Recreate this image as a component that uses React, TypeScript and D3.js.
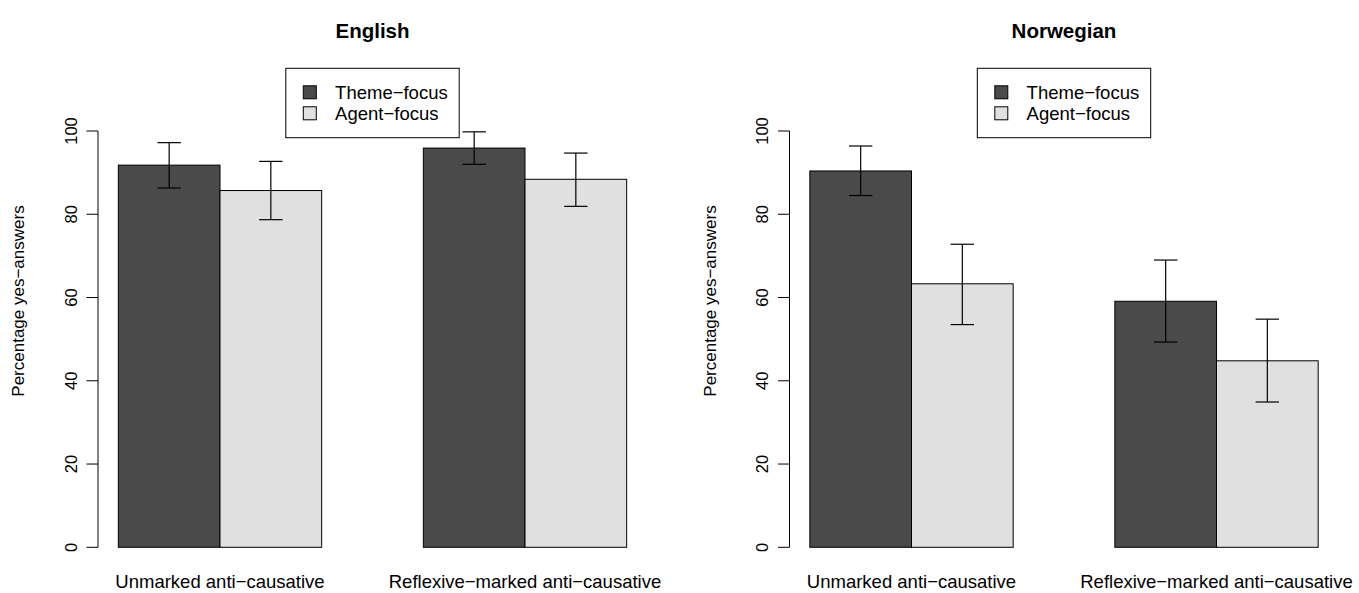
import React from 'react';
import * as d3 from 'd3';

// data
const categories = ['Unmarked anti\u2212causative', 'Reflexive\u2212marked anti\u2212causative'];
const seriesNames = ['Theme\u2212focus', 'Agent\u2212focus'];
const seriesColors = ['#4a4a4a', '#e0e0e0'];
const yTicks = [0, 20, 40, 60, 80, 100];

const englishTheme = [91.8, 95.9];
const englishThemeLow = [86.3, 92.0];
const englishThemeHigh = [97.2, 99.8];
const englishAgent = [85.7, 88.4];
const englishAgentLow = [78.7, 81.9];
const englishAgentHigh = [92.7, 94.7];

const norwegianTheme = [90.4, 59.1];
const norwegianThemeLow = [84.5, 49.3];
const norwegianThemeHigh = [96.4, 69.0];
const norwegianAgent = [63.3, 44.8];
const norwegianAgentLow = [53.5, 34.9];
const norwegianAgentHigh = [72.8, 54.8];

const panels = [
  {
    title: 'English',
    left: 98,
    values: [englishTheme, englishAgent],
    low: [englishThemeLow, englishAgentLow],
    high: [englishThemeHigh, englishAgentHigh],
  },
  {
    title: 'Norwegian',
    left: 789.5,
    values: [norwegianTheme, norwegianAgent],
    low: [norwegianThemeLow, norwegianAgentLow],
    high: [norwegianThemeHigh, norwegianAgentHigh],
  },
];

const W = 1359;
const H = 593;
const FONT = '"Liberation Sans", Arial, Helvetica, sans-serif';

function Panel({ p }) {
  // R barplot(beside=TRUE) layout: bars of width 1, one bar gap between groups
  const x = d3.scaleLinear().domain([0.8, 6.2]).range([p.left, p.left + 549]);
  const y = d3.scaleLinear().domain([0, 100]).range([547.3, 131]);
  const cx = (x(0.8) + x(6.2)) / 2;
  const capHalf = 11.7;
  const bars = [];
  categories.forEach((cat, g) => {
    seriesNames.forEach((s, k) => {
      const u = 1 + g * 3 + k;
      bars.push({
        key: `${g}-${k}`,
        x0: x(u),
        x1: x(u + 1),
        mid: x(u + 0.5),
        v: p.values[k][g],
        lo: p.low[k][g],
        hi: p.high[k][g],
        fill: seriesColors[k],
      });
    });
  });
  const legLeft = cx - 86.7;
  const ylabX = p.left - 79.5;
  return (
    <g fontFamily={FONT}>
      <text x={cx} y={38} textAnchor='middle' fontWeight='bold' fontSize={20.5}>
        {p.title}
      </text>
      {bars.map((b) => (
        <rect
          key={b.key}
          x={b.x0}
          y={y(b.v)}
          width={b.x1 - b.x0}
          height={y(0) - y(b.v)}
          fill={b.fill}
          stroke='#000'
          strokeWidth={1}
        />
      ))}
      {bars.map((b) => (
        <g key={'e' + b.key} stroke='#000' strokeWidth={1.2}>
          <line x1={b.mid} x2={b.mid} y1={y(b.lo)} y2={y(b.hi)} />
          <line x1={b.mid - capHalf} x2={b.mid + capHalf} y1={y(b.lo)} y2={y(b.lo)} />
          <line x1={b.mid - capHalf} x2={b.mid + capHalf} y1={y(b.hi)} y2={y(b.hi)} />
        </g>
      ))}
      {/* y axis */}
      <line x1={p.left} x2={p.left} y1={y(0)} y2={y(100)} stroke='#000' strokeWidth={1} />
      {yTicks.map((t) => (
        <g key={t}>
          <line x1={p.left - 11.5} x2={p.left} y1={y(t)} y2={y(t)} stroke='#000' />
          <text
            transform={`translate(${p.left - 27},${y(t)}) rotate(-90)`}
            textAnchor='middle'
            dy='0.35em'
            fontSize={16.5}
          >
            {t}
          </text>
        </g>
      ))}
      <text
        transform={`translate(${ylabX},${301}) rotate(-90)`}
        textAnchor='middle'
        dy='0.35em'
        fontSize={17}
      >
        Percentage yes{'\u2212'}answers
      </text>
      {categories.map((c, g) => (
        <text key={c} x={x(2 + g * 3)} y={588} textAnchor='middle' fontSize={18.5}>
          {c}
        </text>
      ))}
      {/* legend */}
      <rect x={legLeft} y={68.3} width={173.4} height={69.4} fill='#fff' stroke='#000' />
      {seriesNames.map((s, k) => (
        <g key={s}>
          <rect
            x={legLeft + 17.5}
            y={92.3 + k * 21 - 6.5}
            width={13}
            height={13}
            fill={seriesColors[k]}
            stroke='#000'
          />
          <text x={legLeft + 49.3} y={92.3 + k * 21} dy='0.35em' fontSize={18.5}>
            {s}
          </text>
        </g>
      ))}
    </g>
  );
}

export default function App() {
  return (
    <svg
      width={W}
      height={H}
      style={{ position: 'absolute', left: 0, top: 0, background: '#fff' }}
    >
      <rect width={W} height={H} fill='#fff' />
      {panels.map((p) => (
        <Panel key={p.title} p={p} />
      ))}
    </svg>
  );
}
